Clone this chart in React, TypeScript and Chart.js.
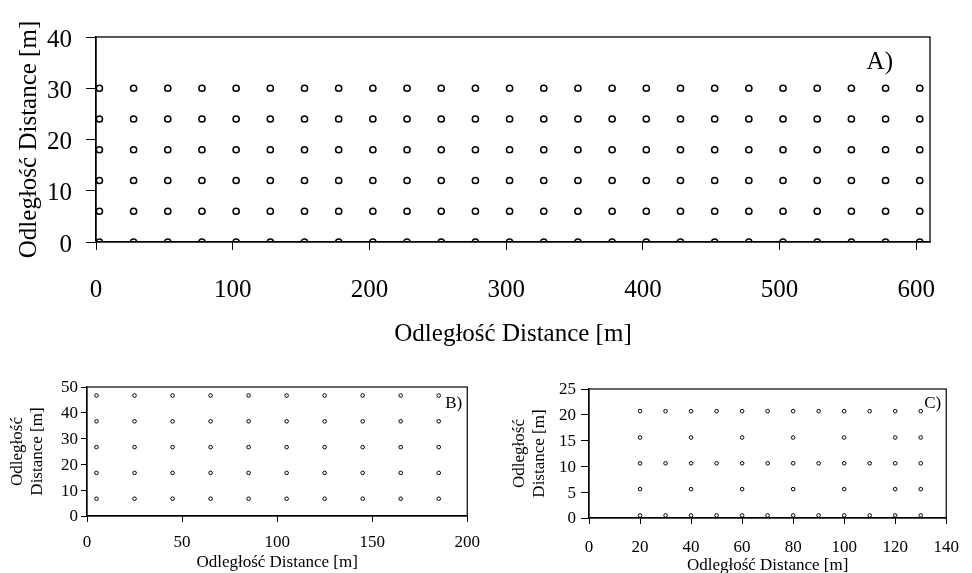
import React, { useEffect, useRef } from "react";
import { Chart, registerables } from "chart.js";
Chart.register(...registerables);

const FONT = '"Liberation Serif", "Times New Roman", Times, serif';
const AXIS_TITLE = "Odległość Distance [m]";
const Y_TITLE_2 = ["Odległość", "Distance [m]"];

// ---- Panel A ----
const aX = [2.5, 27.5, 52.5, 77.5, 102.5, 127.5, 152.5, 177.5, 202.5, 227.5, 252.5, 277.5, 302.5,
  327.5, 352.5, 377.5, 402.5, 427.5, 452.5, 477.5, 502.5, 527.5, 552.5, 577.5, 602.5];
const aY = [0, 6, 12, 18, 24, 30];
const aXTicks = [0, 100, 200, 300, 400, 500, 600];
const aYTicks = [0, 10, 20, 30, 40];

// ---- Panel B ----
const bX = [5, 25, 45, 65, 85, 105, 125, 145, 165, 185];
const bY = [6.7, 16.7, 26.7, 36.7, 46.7];
const bXTicks = [0, 50, 100, 150, 200];
const bYTicks = [0, 10, 20, 30, 40, 50];

// ---- Panel C ----
const cXFull = [20, 30, 40, 50, 60, 70, 80, 90, 100, 110, 120, 130];
const cXSparse = [20, 40, 60, 80, 100, 120, 130];
const cY = [0.5, 5.6, 10.6, 15.6, 20.7];
const cRows = [cXFull, cXSparse, cXFull, cXSparse, cXFull];
const cXTicks = [0, 20, 40, 60, 80, 100, 120, 140];
const cYTicks = [0, 5, 10, 15, 20, 25];

type Pt = { x: number; y: number };

function grid(xs: number[], ys: number[]): Pt[] {
  const out: Pt[] = [];
  ys.forEach((y) => xs.forEach((x) => out.push({ x, y })));
  return out;
}

const pointsA = grid(aX, aY);
const pointsB = grid(bX, bY);
const pointsC: Pt[] = [];
cY.forEach((y, i) => cRows[i].forEach((x) => pointsC.push({ x, y })));

const framePlugin = {
  id: "panelFrame",
  afterDatasetsDraw(chart: any, _args: any, opts: any) {
    const { ctx, chartArea } = chart;
    ctx.save();
    ctx.strokeStyle = "#000";
    ctx.lineWidth = opts.lineWidth || 1;
    ctx.strokeRect(
      chartArea.left,
      chartArea.top,
      chartArea.right - chartArea.left,
      chartArea.bottom - chartArea.top
    );
    ctx.font = opts.font;
    ctx.fillStyle = "#000";
    ctx.textAlign = "right";
    ctx.textBaseline = "middle";
    ctx.fillText(opts.text, chartArea.right - opts.dx, chartArea.top + opts.dy);
    ctx.restore();
  },
};

type Spec = {
  points: Pt[];
  xMin: number; xMax: number; yMin: number; yMax: number;
  xTicks: number[]; yTicks: number[];
  tickSize: number; titleSize: number;
  xTitle: string | string[]; yTitle: string | string[];
  yWidth: number; xHeight: number; padTop: number; padRight: number;
  xTickLen: number; yTickLen: number; xPad: number; yPad: number; yLabelOffset: number;
  xTitlePadBottom: number; yTitlePadTop: number;
  radius: number; pointBorder: number;
  panel: string; panelSize: number; panelDx: number; panelDy: number; frame: number;
};

function makeConfig(s: Spec): any {
  return {
    type: "scatter",
    data: {
      datasets: [
        {
          data: s.points,
          showLine: false,
          pointStyle: "circle",
          pointRadius: s.radius,
          pointBorderWidth: s.pointBorder,
          borderColor: "#000",
          backgroundColor: "rgba(0,0,0,0)",
        },
      ],
    },
    plugins: [framePlugin],
    options: {
      responsive: false,
      animation: false,
      events: [],
      devicePixelRatio: 1,
      layout: { padding: { top: s.padTop, right: s.padRight, left: 0, bottom: 0 } },
      plugins: {
        legend: { display: false },
        tooltip: { enabled: false },
        panelFrame: {
          text: s.panel,
          font: `${s.panelSize}px ${FONT}`,
          dx: s.panelDx,
          dy: s.panelDy,
          lineWidth: s.frame,
        },
      },
      scales: {
        x: {
          type: "linear",
          min: s.xMin,
          max: s.xMax,
          afterBuildTicks: (axis: any) => {
            axis.ticks = s.xTicks.map((v) => ({ value: v }));
          },
          afterFit: (axis: any) => {
            axis.height = s.xHeight;
          },
          grid: {
            display: true,
            drawOnChartArea: false,
            drawTicks: true,
            tickLength: s.xTickLen,
            color: "#000",
            lineWidth: 1,
          },
          border: { display: true, color: "#000", width: s.frame },
          ticks: {
            autoSkip: false,
            maxRotation: 0,
            padding: s.xPad,
            color: "#000",
            font: { family: FONT, size: s.tickSize },
          },
          title: {
            display: true,
            text: s.xTitle,
            color: "#000",
            font: { family: FONT, size: s.titleSize },
            padding: { top: 0, bottom: s.xTitlePadBottom },
          },
        },
        y: {
          type: "linear",
          min: s.yMin,
          max: s.yMax,
          afterBuildTicks: (axis: any) => {
            axis.ticks = s.yTicks.map((v) => ({ value: v }));
          },
          afterFit: (axis: any) => {
            axis.width = s.yWidth;
          },
          grid: {
            display: true,
            drawOnChartArea: false,
            drawTicks: true,
            tickLength: s.yTickLen,
            color: "#000",
            lineWidth: 1,
          },
          border: { display: true, color: "#000", width: s.frame },
          ticks: {
            autoSkip: false,
            padding: s.yPad,
            labelOffset: s.yLabelOffset,
            color: "#000",
            font: { family: FONT, size: s.tickSize },
          },
          title: {
            display: true,
            text: s.yTitle,
            color: "#000",
            font: { family: FONT, size: s.titleSize },
            padding: { top: s.yTitlePadTop, bottom: 0 },
          },
        },
      },
    },
  };
}

const specA: Spec = {
  points: pointsA, xMin: 0, xMax: 610, yMin: 0, yMax: 40,
  xTicks: aXTicks, yTicks: aYTicks, tickSize: 25, titleSize: 25,
  xTitle: AXIS_TITLE, yTitle: AXIS_TITLE,
  yWidth: 96, xHeight: 118, padTop: 37, padRight: 42,
  xTickLen: 8, yTickLen: 10, xPad: 25, yPad: 14, yLabelOffset: 3,
  xTitlePadBottom: 11, yTitlePadTop: 14,
  radius: 3.1, pointBorder: 1.5,
  panel: "A)", panelSize: 25, panelDx: 37, panelDy: 25, frame: 1.3,
};

const specB: Spec = {
  points: pointsB, xMin: 0, xMax: 200, yMin: 0, yMax: 50,
  xTicks: bXTicks, yTicks: bYTicks, tickSize: 17, titleSize: 17,
  xTitle: AXIS_TITLE, yTitle: Y_TITLE_2,
  yWidth: 87, xHeight: 57, padTop: 27, padRight: 22,
  xTickLen: 6, yTickLen: 6, xPad: 10, yPad: 3, yLabelOffset: 1,
  xTitlePadBottom: 0, yTitlePadTop: 7,
  radius: 1.8, pointBorder: 1,
  panel: "B)", panelSize: 17, panelDx: 5, panelDy: 17, frame: 1.2,
};

const specC: Spec = {
  points: pointsC, xMin: 0, xMax: 140, yMin: 0, yMax: 25,
  xTicks: cXTicks, yTicks: cYTicks, tickSize: 17, titleSize: 17,
  xTitle: AXIS_TITLE, yTitle: Y_TITLE_2,
  yWidth: 99, xHeight: 58, padTop: 29, padRight: 15,
  xTickLen: 6, yTickLen: 8, xPad: 13, yPad: 5, yLabelOffset: 1,
  xTitlePadBottom: 0, yTitlePadTop: 19,
  radius: 1.8, pointBorder: 1,
  panel: "C)", panelSize: 17, panelDx: 5, panelDy: 15, frame: 1.2,
};

function Panel(props: { spec: Spec; left: number; top: number; width: number; height: number }) {
  const ref = useRef<HTMLCanvasElement | null>(null);
  useEffect(() => {
    if (!ref.current) return;
    const chart = new Chart(ref.current, makeConfig(props.spec));
    return () => chart.destroy();
  }, []);
  return (
    <canvas
      ref={ref}
      width={props.width}
      height={props.height}
      style={{
        position: "absolute",
        left: props.left,
        top: props.top,
        width: props.width,
        height: props.height,
      }}
    />
  );
}

export default function App() {
  return (
    <div
      style={{
        position: "absolute",
        left: 0,
        top: 0,
        width: 972,
        height: 573,
        overflow: "hidden",
        background: "#fff",
      }}
    >
      <Panel spec={specA} left={0} top={0} width={972} height={360} />
      <Panel spec={specB} left={0} top={360} width={490} height={213} />
      <Panel spec={specC} left={490} top={360} width={482} height={216} />
    </div>
  );
}
